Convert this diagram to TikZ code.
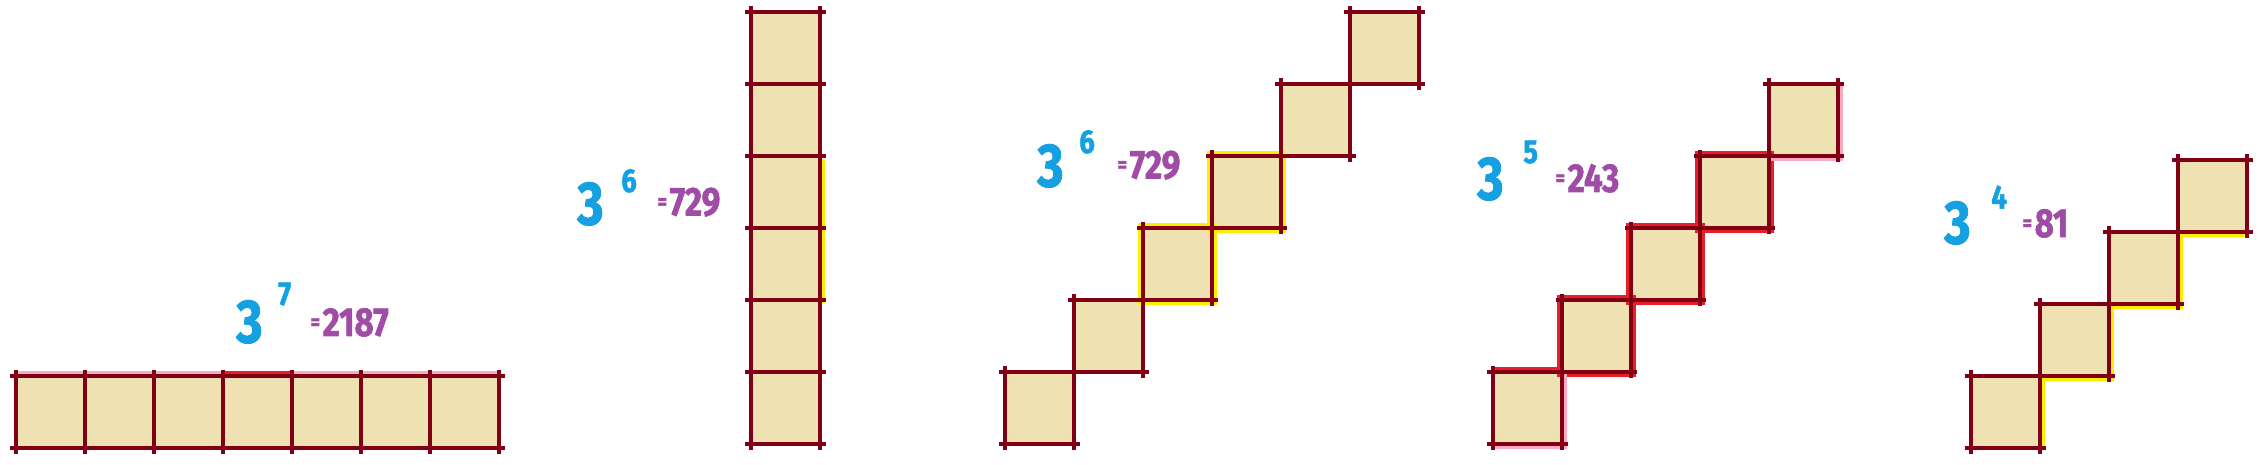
\documentclass[tikz,border=0pt]{standalone}
\usepackage{fontspec}
\setmainfont{Fira Sans}
\newfontfamily\numfont{Fira Sans}[FakeStretch=0.82,BoldFeatures={FakeBold=1.5}]
\definecolor{CellFill}{RGB}{239,226,178}
\definecolor{CellLine}{RGB}{130,0,22}
\definecolor{PowBlue}{RGB}{20,160,225}
\definecolor{ValPurple}{RGB}{160,75,165}
\definecolor{MarkYellow}{RGB}{255,238,0}
\definecolor{MarkPink}{RGB}{250,170,190}
\definecolor{MarkRed}{RGB}{232,30,40}
% one cell is 69 x 72 px, given by its top left corner
\newcommand{\cellbg}[2]{\fill[CellFill] (#1,#2) rectangle ++(69,72);}
\newcommand{\cellgrid}[2]{%
  \draw[cellline] (#1-6,#2) -- ++(81,0) (#1-6,#2+72) -- ++(81,0)
    (#1,#2-6) -- ++(0,84) (#1+69,#2-6) -- ++(0,84);}
\newcommand{\eqsign}{\raisebox{3.5pt}{\fontsize{13}{13}\selectfont=}\kern1.5pt}

\begin{document}
\begin{tikzpicture}[x=0.02cm,y=-0.02cm,
  cellline/.style={CellLine,line width=1.9pt},
  bignum/.style={PowBlue,inner sep=0pt,anchor=south west,font=\numfont\bfseries\fontsize{35}{35}\selectfont},
  expnum/.style={PowBlue,inner sep=0pt,anchor=south west,font=\numfont\bfseries\fontsize{19}{19}\selectfont},
  valnum/.style={ValPurple,inner sep=0pt,anchor=south west,font=\numfont\bfseries\fontsize{23}{23}\selectfont},
  ylwline/.style={MarkYellow,line width=2.3pt},
  pinkline/.style={MarkPink,line width=2.3pt},
  redline/.style={MarkRed,line width=2.3pt}]
\useasboundingbox (0,0) rectangle (2260,465);

% 3^7: a row of seven cells
\foreach \i in {0,...,6} {\cellbg{16+69*\i}{376}}
\draw[pinkline] (16,373) -- (499,373);
\draw[redline] (223,373) -- (292,373);
\foreach \i in {0,...,6} {\cellgrid{16+69*\i}{376}}
\node[bignum] (pow1) at (236,344) {3};
\node[expnum] (exp1) at (278,306) {7};
\node[valnum] (val1) at (310,337) {\eqsign2187};

% 3^6: a column of six cells
\foreach \i in {0,...,5} {\cellbg{751}{12+72*\i}}
\draw[ylwline] (823,159) -- (823,303);
\foreach \i in {0,...,5} {\cellgrid{751}{12+72*\i}}
\node[bignum] (pow2) at (577,226) {3};
\node[expnum] (exp2) at (621,193) {6};
\node[valnum] (val2) at (657,217) {\eqsign729};

% 3^6: six cells as stairs
\foreach \i in {0,...,5} {\cellbg{1005+69*\i}{372-72*\i}}
\foreach \i in {2,3} {\draw[ylwline] (1002+69*\i,369-72*\i) rectangle ++(75,78);}
\foreach \i in {0,...,5} {\cellgrid{1005+69*\i}{372-72*\i}}
\node[bignum] (pow3) at (1037,188) {3};
\node[expnum] (exp3) at (1079,154) {6};
\node[valnum] (val3) at (1117,180) {\eqsign729};

% 3^5: five cells as stairs
\foreach \i in {0,...,4} {\cellbg{1493+69*\i}{372-72*\i}}
\foreach \i in {1,2,3} {\draw[redline] (1490+69*\i,369-72*\i) rectangle ++(75,78);}
\draw[redline] (1493,369) -- (1562,369);
\draw[pinkline] (1565,372) -- (1565,447) -- (1493,447);
\draw[pinkline] (1841,84) -- (1841,159) -- (1769,159);
\foreach \i in {0,...,4} {\cellgrid{1493+69*\i}{372-72*\i}}
\node[bignum] (pow4) at (1477,201) {3};
\node[expnum] (exp4) at (1523,164) {5};
\node[valnum] (val4) at (1555,193) {\eqsign243};

% 3^4: four cells as stairs
\foreach \i in {0,...,3} {\cellbg{1971+69*\i}{376-72*\i}}
\draw[ylwline] (2043,448) -- (2043,379) -- (2112,379) -- (2112,307)
  -- (2181,307) -- (2181,235) -- (2247,235);
\foreach \i in {0,...,3} {\cellgrid{1971+69*\i}{376-72*\i}}
\node[bignum] (pow5) at (1944,245) {3};
\node[expnum] (exp5) at (1991,209) {4};
\node[valnum] (val5) at (2022,238) {\eqsign81};
\end{tikzpicture}
\end{document}
